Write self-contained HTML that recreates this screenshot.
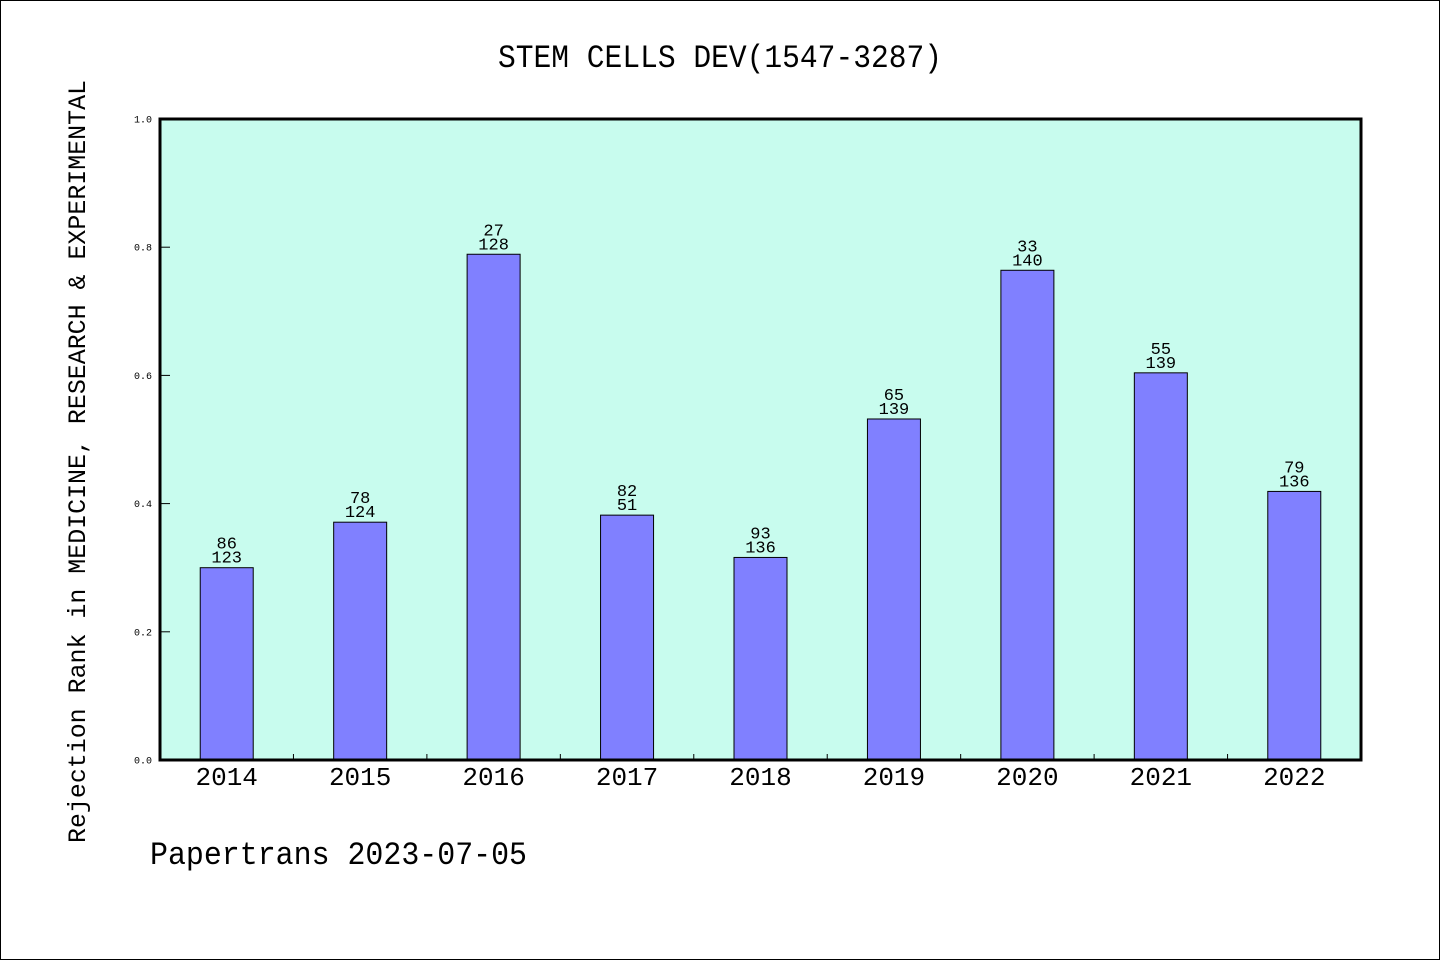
<!DOCTYPE html>
<html><head><meta charset="utf-8"><style>
html,body{margin:0;padding:0;background:#fff}
svg{display:block}
text{font-family:"Liberation Mono","WenQuanYi Zen Hei",monospace;fill:#000}
</style></head><body>
<svg id="chart" width="1440" height="960" viewBox="0 0 1440 960" xmlns="http://www.w3.org/2000/svg">
<rect x="0.5" y="0.5" width="1439" height="959" fill="#fff" stroke="#000" stroke-width="1"/>
<text x="498" y="67" font-size="32" textLength="444" lengthAdjust="spacingAndGlyphs">STEM CELLS DEV(1547-3287)</text>
<text transform="translate(85,843) rotate(-90)" font-size="25" textLength="763" lengthAdjust="spacingAndGlyphs">Rejection Rank in MEDICINE, RESEARCH &amp; EXPERIMENTAL</text>
<text x="150" y="864" font-size="32" textLength="377" lengthAdjust="spacingAndGlyphs">Papertrans 2023-07-05</text>
<rect x="160" y="119" width="1201" height="641" fill="#c8fcee"/>
<g id="marks"></g>
<rect x="160" y="119" width="1201" height="641" fill="none" stroke="#000" stroke-width="3"/>
</svg>
<script>
const categories = ['2014','2015','2016','2017','2018','2019','2020','2021','2022'];
const values = [0.300, 0.371, 0.789, 0.382, 0.316, 0.532, 0.764, 0.604, 0.419];
const rankLabels = ['86','78','27','82','93','65','33','55','79'];
const totalLabels = ['123','124','128','51','136','139','140','139','136'];
const yTicks = [0.0, 0.2, 0.4, 0.6, 0.8, 1.0];

const NS = 'http://www.w3.org/2000/svg';
const X0 = 160, X1 = 1361, Y0 = 760, Y1 = 119;
const band = (X1 - X0) / categories.length;
const xPos = i => X0 + band * (i + 0.5);
const yPos = v => Y0 - (v - 0) / (1 - 0) * (Y0 - Y1);
const g = document.getElementById('marks');
function mk(tag, attrs, text) {
  const e = document.createElementNS(NS, tag);
  for (const k in attrs) e.setAttribute(k, attrs[k]);
  if (text !== undefined) e.textContent = text;
  g.appendChild(e);
  return e;
}
const bw = 53;
categories.forEach((c, i) => {
  const cx = xPos(i), top = yPos(values[i]);
  const r = mk('rect', {x: cx - bw/2, y: top, width: bw, height: Y0 - top, fill: '#8080ff', stroke: '#000', 'stroke-width': 1});
  
  
  const t1 = mk('text', {x: cx, y: top - 19, 'font-size': 17, 'text-anchor': 'middle'}, rankLabels[i]);
  
  
  const t2 = mk('text', {x: cx, y: top - 5, 'font-size': 17, 'text-anchor': 'middle'}, totalLabels[i]);
  
  
  const xl = mk('text', {x: cx, y: 785, 'font-size': 26, 'text-anchor': 'middle'}, c);
  
  
  if (i > 0) {
    const bx = X0 + band * i;
    const tk = mk('line', {x1: bx, x2: bx, y1: Y0, y2: Y0 - 6, stroke: '#000', 'stroke-width': 1});
    
    
  }
});
yTicks.forEach(v => {
  const y = yPos(v);
  const tk = mk('line', {x1: X0, x2: X0 + 10, y1: y, y2: y, stroke: '#000', 'stroke-width': 1});
  
  
  const tl = mk('text', {x: 152, y: y + 3.5, 'font-size': 10, 'text-anchor': 'end'}, v.toFixed(1));
  
  
});
</script>
</body></html>
